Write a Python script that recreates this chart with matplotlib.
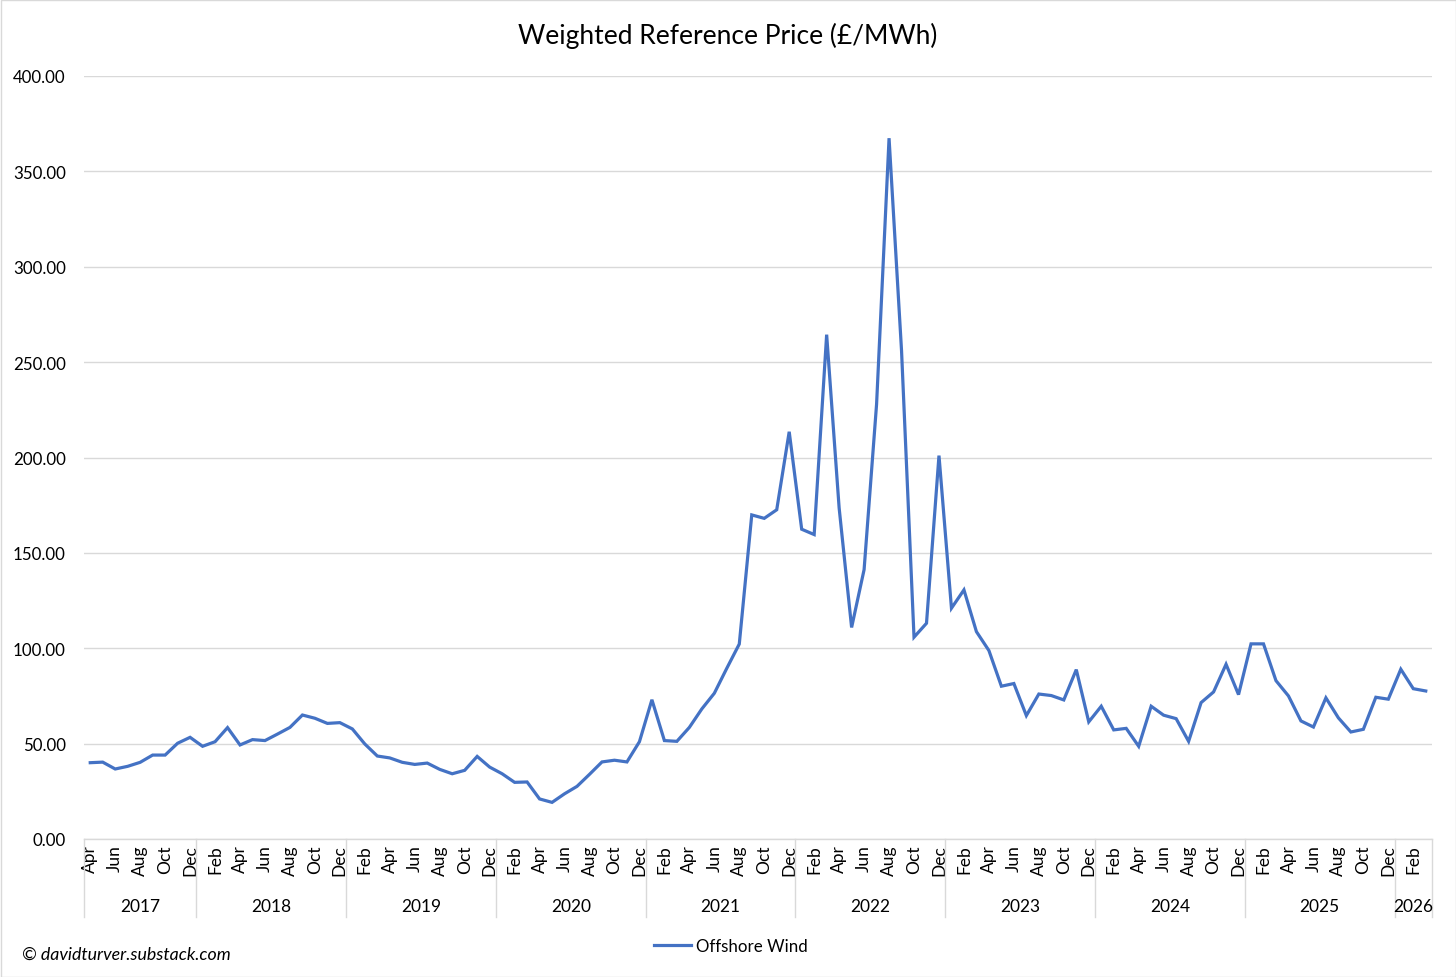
import numpy as np
import matplotlib
matplotlib.use('Agg')
import matplotlib.pyplot as plt
import matplotlib.transforms as mtransforms
from matplotlib.patches import Rectangle

# Monthly weighted reference price, Apr 2017 - Mar 2026 (GBP/MWh)
MONTH_NAMES = ['Jan', 'Feb', 'Mar', 'Apr', 'May', 'Jun',
               'Jul', 'Aug', 'Sep', 'Oct', 'Nov', 'Dec']
START_YEAR = 2017
START_MONTH = 4

p2017 = [40.0, 40.3, 36.7, 38.1, 40.2, 44.0, 44.0, 50.2, 53.3]
p2018 = [48.6, 51.0, 58.4, 49.3, 52.1, 51.6, 55.0, 58.5, 65.0, 63.3, 60.6, 61.0]
p2019 = [57.7, 49.8, 43.5, 42.5, 40.2, 39.1, 39.8, 36.5, 34.2, 36.0, 43.3, 37.7]
p2020 = [34.2, 29.7, 29.9, 21.0, 19.2, 23.7, 27.6, 33.9, 40.4, 41.3, 40.4, 51.0]
p2021 = [73.0, 51.6, 51.2, 58.5, 68.2, 76.4, 89.5, 102.2, 169.9, 168.1, 172.6, 213.5]
p2022 = [162.4, 159.6, 264.4, 173.6, 110.9, 141.2, 227.9, 367.4, 256.0, 105.8, 113.1, 201.0]
p2023 = [121.0, 130.6, 108.7, 98.8, 80.1, 81.5, 64.7, 76.0, 75.2, 72.9, 88.8, 61.4]
p2024 = [69.6, 57.2, 58.0, 48.6, 69.6, 64.9, 63.1, 51.2, 71.5, 77.1, 91.6, 75.7]
p2025 = [102.3, 102.3, 83.0, 75.0, 61.9, 58.7, 74.0, 63.5, 56.1, 57.5, 74.3, 73.3]
p2026 = [89.0, 78.8, 77.6]

years = [2017, 2018, 2019, 2020, 2021, 2022, 2023, 2024, 2025, 2026]
by_year = [p2017, p2018, p2019, p2020, p2021, p2022, p2023, p2024, p2025, p2026]

prices = [v for yr in by_year for v in yr]
n = len(prices)
x = np.arange(n)
month_labels = [MONTH_NAMES[(START_MONTH - 1 + i) % 12] for i in range(n)]

plt.rcParams['font.family'] = ['Lato', 'DejaVu Sans']

fig = plt.figure(figsize=(14.56, 9.78), dpi=100)
ax = fig.add_axes([84 / 1456, 1 - 840 / 978, (1432 - 84) / 1456, (840 - 77) / 978])

ax.plot(x, prices, color='#4472C4', linewidth=2.3, label='Offshore Wind',
        solid_joinstyle='miter', zorder=3)

ax.set_xlim(-0.5, n - 0.5)
ax.set_ylim(0, 400)
ax.set_yticks(np.arange(0, 401, 50))
ax.set_yticklabels([f'{v:.2f}' for v in np.arange(0, 401, 50)], fontsize=12.2)
ax.yaxis.grid(True, color='#D9D9D9', linewidth=1.0)
ax.set_axisbelow(True)
ax.tick_params(axis='y', length=0, pad=13)

for side in ['top', 'right', 'left']:
    ax.spines[side].set_visible(False)
ax.spines['bottom'].set_color('#D9D9D9')
ax.spines['bottom'].set_linewidth(1.0)

# month labels every other month
ax.set_xticks(x[::2])
ax.set_xticklabels(month_labels[::2], rotation=90, fontsize=12.5)
ax.tick_params(axis='x', length=0, pad=4)

# year group separators and labels
trans = mtransforms.blended_transform_factory(ax.transData, ax.transAxes)
sep_bottom = -(918 - 840) / (840 - 77)
year_lab_y = -(907 - 840) / (840 - 77)
start = -0.5
for yr, vals in zip(years, by_year):
    end = start + len(vals)
    ax.plot([start, start], [0, sep_bottom], transform=trans, color='#D9D9D9',
            linewidth=1.0, clip_on=False)
    ax.text((start + end) / 2, year_lab_y, str(yr), transform=trans,
            ha='center', va='center', fontsize=12.5)
    start = end
ax.plot([start, start], [0, sep_bottom], transform=trans, color='#D9D9D9',
        linewidth=1.0, clip_on=False)

fig.text(728 / 1456, 1 - 36 / 978, 'Weighted Reference Price (£/MWh)',
         ha='center', va='center', fontsize=19)

fig.legend(loc='center', bbox_to_anchor=(731 / 1456, 1 - 947 / 978), frameon=False,
           fontsize=12.2, handlelength=2.2, handletextpad=0.3)

fig.text(22 / 1456, 1 - 955 / 978, '© davidturver.substack.com',
         ha='left', va='center', fontsize=12.8, style='italic')

fig.patches.append(Rectangle((0.5 / 1456, 0.5 / 978), 1 - 1 / 1456, 1 - 1 / 978,
                             transform=fig.transFigure, fill=False,
                             edgecolor='#D9D9D9', linewidth=1.0))

fig.savefig('out.png', dpi=100)
